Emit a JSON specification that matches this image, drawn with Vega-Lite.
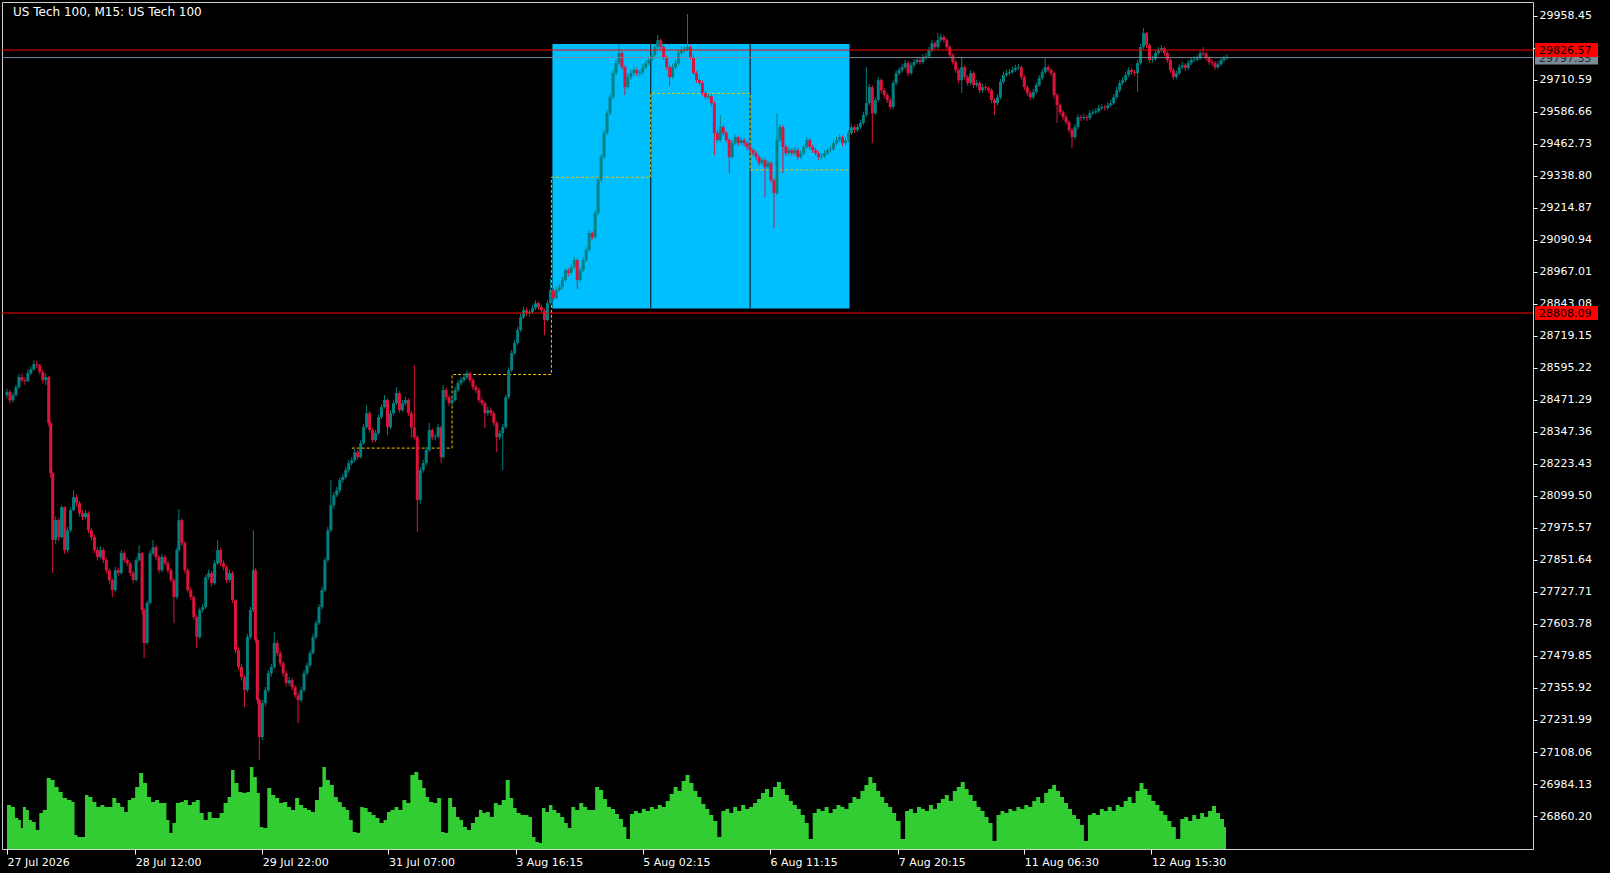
{
"$schema":"https://vega.github.io/schema/vega-lite/v6.json",
"width":1531,"height":847,
"autosize":{"type":"none"},
"padding":{"left":2,"top":2,"right":77,"bottom":24},
"background":"#000000",
"datasets":{
"candles":[
{"x":2,"o":28490,"h":28515,"l":28478,"c":28502},{"x":5,"o":28502,"h":28510,"l":28458,"c":28470},{"x":8,"o":28470,"h":28500,"l":28462,"c":28490},{"x":11,"o":28490,"h":28530,"l":28484,"c":28521},{"x":14,"o":28521,"h":28572,"l":28515,"c":28560},{"x":17,"o":28560,"h":28575,"l":28540,"c":28548},{"x":20,"o":28548,"h":28560,"l":28530,"c":28545},{"x":23,"o":28545,"h":28590,"l":28540,"c":28575},{"x":26,"o":28575,"h":28602,"l":28568,"c":28590},{"x":29,"o":28590,"h":28625,"l":28583,"c":28610},{"x":32,"o":28610,"h":28622,"l":28595,"c":28606},{"x":35,"o":28606,"h":28612,"l":28570,"c":28580},{"x":38,"o":28580,"h":28590,"l":28535,"c":28548},{"x":41,"o":28548,"h":28575,"l":28530,"c":28560},{"x":44,"o":28560,"h":28565,"l":28370,"c":28382},{"x":46,"o":28382,"h":28390,"l":28170,"c":28188},{"x":48,"o":28188,"h":28195,"l":27801,"c":27929},
{"x":51,"o":27929,"h":28020,"l":27915,"c":28006},{"x":54,"o":28006,"h":28015,"l":27925,"c":27940},{"x":57,"o":27940,"h":28064,"l":27935,"c":28056},{"x":60,"o":28056,"h":28060,"l":27875,"c":27890},{"x":63,"o":27890,"h":27980,"l":27880,"c":27967},{"x":66,"o":27967,"h":28055,"l":27960,"c":28045},{"x":69,"o":28045,"h":28122,"l":28040,"c":28095},{"x":72,"o":28095,"h":28105,"l":28060,"c":28072},{"x":75,"o":28072,"h":28080,"l":28020,"c":28033},{"x":78,"o":28033,"h":28045,"l":28005,"c":28018},{"x":81,"o":28018,"h":28045,"l":28010,"c":28033},{"x":84,"o":28033,"h":28040,"l":27955,"c":27967},{"x":87,"o":27967,"h":27975,"l":27928,"c":27940},{"x":90,"o":27940,"h":27950,"l":27878,"c":27890},{"x":93,"o":27890,"h":27900,"l":27850,"c":27863},{"x":96,"o":27863,"h":27905,"l":27855,"c":27890},{"x":99,"o":27890,"h":27898,"l":27840,"c":27851},{"x":102,"o":27851,"h":27860,"l":27800,"c":27812},{"x":105,"o":27812,"h":27820,"l":27760,"c":27774},{"x":108,"o":27774,"h":27780,"l":27708,"c":27735},{"x":111,"o":27735,"h":27825,"l":27728,"c":27812},{"x":114,"o":27812,"h":27822,"l":27790,"c":27801},{"x":117,"o":27801,"h":27890,"l":27795,"c":27878},{"x":120,"o":27878,"h":27888,"l":27840,"c":27851},{"x":123,"o":27851,"h":27860,"l":27828,"c":27839},{"x":126,"o":27839,"h":27845,"l":27790,"c":27801},{"x":129,"o":27801,"h":27810,"l":27762,"c":27774},{"x":132,"o":27774,"h":27862,"l":27768,"c":27851},{"x":135,"o":27851,"h":27909,"l":27845,"c":27878},{"x":138,"o":27878,"h":27882,"l":27640,"c":27658},{"x":140,"o":27658,"h":27665,"l":27472,"c":27530},{"x":143,"o":27530,"h":27695,"l":27522,"c":27685},{"x":146,"o":27685,"h":27890,"l":27680,"c":27878},{"x":149,"o":27878,"h":27929,"l":27870,"c":27901},
{"x":152,"o":27901,"h":27910,"l":27850,"c":27863},{"x":155,"o":27863,"h":27870,"l":27800,"c":27812},{"x":158,"o":27812,"h":27875,"l":27805,"c":27863},{"x":161,"o":27863,"h":27872,"l":27830,"c":27839},{"x":164,"o":27839,"h":27848,"l":27800,"c":27812},{"x":167,"o":27812,"h":27820,"l":27765,"c":27774},{"x":170,"o":27774,"h":27780,"l":27607,"c":27708},{"x":173,"o":27708,"h":27900,"l":27700,"c":27890},{"x":175,"o":27890,"h":28049,"l":27885,"c":28006},{"x":178,"o":28006,"h":28012,"l":27905,"c":27917},{"x":181,"o":27917,"h":27925,"l":27800,"c":27812},{"x":184,"o":27812,"h":27820,"l":27725,"c":27735},{"x":187,"o":27735,"h":27745,"l":27695,"c":27708},{"x":190,"o":27708,"h":27715,"l":27620,"c":27630},{"x":193,"o":27630,"h":27638,"l":27510,"c":27553},{"x":196,"o":27553,"h":27668,"l":27545,"c":27658},{"x":199,"o":27658,"h":27682,"l":27648,"c":27669},{"x":202,"o":27669,"h":27795,"l":27662,"c":27785},{"x":205,"o":27785,"h":27815,"l":27775,"c":27801},{"x":208,"o":27801,"h":27810,"l":27750,"c":27762},{"x":211,"o":27762,"h":27850,"l":27755,"c":27839},{"x":214,"o":27839,"h":27929,"l":27832,"c":27890},{"x":217,"o":27890,"h":27898,"l":27828,"c":27839},{"x":220,"o":27839,"h":27850,"l":27812,"c":27824},{"x":223,"o":27824,"h":27832,"l":27762,"c":27774},{"x":226,"o":27774,"h":27815,"l":27765,"c":27801},{"x":229,"o":27801,"h":27808,"l":27685,"c":27696},{"x":232,"o":27696,"h":27700,"l":27490,"c":27503},{"x":235,"o":27503,"h":27515,"l":27425,"c":27437},{"x":238,"o":27437,"h":27450,"l":27385,"c":27398},{"x":241,"o":27398,"h":27405,"l":27282,"c":27348},{"x":244,"o":27348,"h":27565,"l":27340,"c":27553},{"x":247,"o":27553,"h":27670,"l":27545,"c":27658},{"x":250,"o":27658,"h":27967,"l":27650,"c":27812},
{"x":252,"o":27812,"h":27820,"l":27530,"c":27542},{"x":254,"o":27542,"h":27550,"l":27295,"c":27309},{"x":256,"o":27309,"h":27315,"l":27076,"c":27166},{"x":259,"o":27166,"h":27310,"l":27155,"c":27297},{"x":262,"o":27297,"h":27360,"l":27285,"c":27348},{"x":265,"o":27348,"h":27425,"l":27340,"c":27413},{"x":268,"o":27413,"h":27450,"l":27400,"c":27437},{"x":271,"o":27437,"h":27572,"l":27430,"c":27530},{"x":274,"o":27530,"h":27540,"l":27480,"c":27491},{"x":277,"o":27491,"h":27500,"l":27440,"c":27452},{"x":280,"o":27452,"h":27460,"l":27400,"c":27413},{"x":283,"o":27413,"h":27422,"l":27362,"c":27375},{"x":286,"o":27375,"h":27398,"l":27365,"c":27386},{"x":289,"o":27386,"h":27395,"l":27348,"c":27359},{"x":292,"o":27359,"h":27368,"l":27318,"c":27328},{"x":295,"o":27328,"h":27340,"l":27220,"c":27309},{"x":298,"o":27309,"h":27360,"l":27300,"c":27348},{"x":301,"o":27348,"h":27425,"l":27340,"c":27413},{"x":304,"o":27413,"h":27455,"l":27405,"c":27444},{"x":307,"o":27444,"h":27502,"l":27435,"c":27491},{"x":310,"o":27491,"h":27565,"l":27485,"c":27553},{"x":313,"o":27553,"h":27618,"l":27545,"c":27607},{"x":316,"o":27607,"h":27680,"l":27600,"c":27669},{"x":319,"o":27669,"h":27748,"l":27660,"c":27735},{"x":322,"o":27735,"h":27862,"l":27728,"c":27851},{"x":325,"o":27851,"h":27980,"l":27842,"c":27967},{"x":328,"o":27967,"h":28161,"l":27960,"c":28064},{"x":331,"o":28064,"h":28115,"l":28050,"c":28103},{"x":334,"o":28103,"h":28135,"l":28095,"c":28122},{"x":337,"o":28122,"h":28172,"l":28110,"c":28161},{"x":340,"o":28161,"h":28185,"l":28150,"c":28173},{"x":343,"o":28173,"h":28212,"l":28165,"c":28200},{"x":346,"o":28200,"h":28240,"l":28190,"c":28227},{"x":349,"o":28227,"h":28250,"l":28218,"c":28238},
{"x":352,"o":28238,"h":28282,"l":28230,"c":28269},{"x":355,"o":28269,"h":28278,"l":28240,"c":28250},{"x":358,"o":28250,"h":28315,"l":28245,"c":28304},{"x":361,"o":28304,"h":28378,"l":28298,"c":28366},{"x":364,"o":28366,"h":28451,"l":28360,"c":28420},{"x":367,"o":28420,"h":28428,"l":28345,"c":28355},{"x":370,"o":28355,"h":28362,"l":28305,"c":28316},{"x":373,"o":28316,"h":28355,"l":28308,"c":28343},{"x":376,"o":28343,"h":28415,"l":28335,"c":28405},{"x":379,"o":28405,"h":28455,"l":28398,"c":28444},{"x":382,"o":28444,"h":28490,"l":28438,"c":28471},{"x":385,"o":28471,"h":28478,"l":28335,"c":28366},{"x":388,"o":28366,"h":28432,"l":28358,"c":28420},{"x":391,"o":28420,"h":28470,"l":28412,"c":28459},{"x":394,"o":28459,"h":28521,"l":28450,"c":28498},{"x":397,"o":28498,"h":28505,"l":28422,"c":28432},{"x":400,"o":28432,"h":28470,"l":28425,"c":28459},{"x":403,"o":28459,"h":28485,"l":28450,"c":28471},{"x":406,"o":28471,"h":28478,"l":28410,"c":28420},{"x":409,"o":28420,"h":28428,"l":28324,"c":28366},{"x":412,"o":28366,"h":28606,"l":28318,"c":28327},{"x":415,"o":28327,"h":28335,"l":27960,"c":28084},{"x":418,"o":28084,"h":28212,"l":28070,"c":28200},{"x":421,"o":28200,"h":28240,"l":28190,"c":28227},{"x":424,"o":28227,"h":28290,"l":28218,"c":28277},{"x":427,"o":28277,"h":28382,"l":28270,"c":28355},{"x":430,"o":28355,"h":28362,"l":28315,"c":28327},{"x":433,"o":28327,"h":28340,"l":28315,"c":28330},{"x":436,"o":28330,"h":28378,"l":28322,"c":28366},{"x":439,"o":28366,"h":28372,"l":28227,"c":28250},{"x":441,"o":28250,"h":28529,"l":28245,"c":28510},{"x":444,"o":28510,"h":28518,"l":28470,"c":28482},{"x":447,"o":28482,"h":28490,"l":28448,"c":28459},{"x":450,"o":28459,"h":28485,"l":28450,"c":28471},
{"x":453,"o":28471,"h":28522,"l":28465,"c":28510},{"x":456,"o":28510,"h":28548,"l":28502,"c":28537},{"x":459,"o":28537,"h":28560,"l":28528,"c":28548},{"x":462,"o":28548,"h":28572,"l":28540,"c":28560},{"x":465,"o":28560,"h":28587,"l":28552,"c":28575},{"x":468,"o":28575,"h":28582,"l":28538,"c":28548},{"x":471,"o":28548,"h":28556,"l":28510,"c":28521},{"x":474,"o":28521,"h":28530,"l":28498,"c":28510},{"x":477,"o":28510,"h":28518,"l":28460,"c":28471},{"x":480,"o":28471,"h":28480,"l":28448,"c":28459},{"x":483,"o":28459,"h":28466,"l":28362,"c":28420},{"x":486,"o":28420,"h":28445,"l":28410,"c":28432},{"x":489,"o":28432,"h":28442,"l":28408,"c":28420},{"x":492,"o":28420,"h":28428,"l":28370,"c":28382},{"x":495,"o":28382,"h":28390,"l":28269,"c":28327},{"x":498,"o":28327,"h":28355,"l":28318,"c":28343},{"x":501,"o":28343,"h":28378,"l":28200,"c":28366},{"x":504,"o":28366,"h":28492,"l":28360,"c":28482},{"x":507,"o":28482,"h":28598,"l":28475,"c":28587},{"x":510,"o":28587,"h":28665,"l":28580,"c":28653},{"x":513,"o":28653,"h":28705,"l":28645,"c":28692},{"x":516,"o":28692,"h":28755,"l":28685,"c":28742},{"x":519,"o":28742,"h":28805,"l":28735,"c":28792},{"x":522,"o":28792,"h":28832,"l":28785,"c":28819},{"x":525,"o":28819,"h":28828,"l":28796,"c":28808},{"x":528,"o":28808,"h":28820,"l":28795,"c":28812},{"x":531,"o":28812,"h":28840,"l":28805,"c":28827},{"x":534,"o":28827,"h":28858,"l":28820,"c":28846},{"x":537,"o":28846,"h":28852,"l":28820,"c":28831},{"x":540,"o":28831,"h":28838,"l":28808,"c":28819},{"x":543,"o":28819,"h":28825,"l":28722,"c":28781},{"x":546,"o":28781,"h":28858,"l":28775,"c":28846},{"x":549,"o":28846,"h":28943,"l":28840,"c":28897},
{"x":552,"o":28897,"h":28905,"l":28855,"c":28866},{"x":555,"o":28866,"h":28910,"l":28860,"c":28897},{"x":558,"o":28897,"h":28920,"l":28890,"c":28908},{"x":561,"o":28908,"h":28948,"l":28900,"c":28936},{"x":564,"o":28936,"h":28986,"l":28928,"c":28974},{"x":567,"o":28974,"h":28982,"l":28950,"c":28963},{"x":570,"o":28963,"h":28998,"l":28955,"c":28986},{"x":573,"o":28986,"h":29025,"l":28978,"c":29013},{"x":576,"o":29013,"h":29020,"l":28901,"c":28936},{"x":579,"o":28936,"h":28986,"l":28928,"c":28974},{"x":582,"o":28974,"h":29025,"l":28966,"c":29013},{"x":585,"o":29013,"h":29064,"l":29005,"c":29052},{"x":588,"o":29052,"h":29130,"l":29045,"c":29118},{"x":591,"o":29118,"h":29125,"l":29090,"c":29102},{"x":594,"o":29102,"h":29206,"l":29095,"c":29195},{"x":597,"o":29195,"h":29334,"l":29188,"c":29323},{"x":600,"o":29323,"h":29424,"l":29315,"c":29412},{"x":603,"o":29412,"h":29516,"l":29405,"c":29505},{"x":606,"o":29505,"h":29594,"l":29498,"c":29582},{"x":609,"o":29582,"h":29656,"l":29575,"c":29644},{"x":612,"o":29644,"h":29748,"l":29636,"c":29737},{"x":615,"o":29737,"h":29788,"l":29728,"c":29776},{"x":618,"o":29776,"h":29850,"l":29768,"c":29815},{"x":621,"o":29815,"h":29822,"l":29750,"c":29760},{"x":624,"o":29760,"h":29768,"l":29652,"c":29683},{"x":627,"o":29683,"h":29735,"l":29675,"c":29722},{"x":630,"o":29722,"h":29750,"l":29712,"c":29737},{"x":633,"o":29737,"h":29762,"l":29728,"c":29749},{"x":636,"o":29749,"h":29758,"l":29725,"c":29737},{"x":639,"o":29737,"h":29750,"l":29725,"c":29740},{"x":642,"o":29740,"h":29772,"l":29732,"c":29760},{"x":645,"o":29760,"h":29788,"l":29752,"c":29776},{"x":648,"o":29776,"h":29800,"l":29768,"c":29788},
{"x":651,"o":29788,"h":29820,"l":29780,"c":29807},{"x":654,"o":29807,"h":29850,"l":29800,"c":29838},{"x":657,"o":29838,"h":29884,"l":29830,"c":29865},{"x":660,"o":29865,"h":29872,"l":29828,"c":29838},{"x":663,"o":29838,"h":29845,"l":29788,"c":29799},{"x":666,"o":29799,"h":29806,"l":29750,"c":29760},{"x":669,"o":29760,"h":29768,"l":29687,"c":29722},{"x":672,"o":29722,"h":29772,"l":29715,"c":29760},{"x":675,"o":29760,"h":29788,"l":29752,"c":29776},{"x":678,"o":29776,"h":29826,"l":29768,"c":29815},{"x":681,"o":29815,"h":29838,"l":29808,"c":29826},{"x":684,"o":29826,"h":29842,"l":29815,"c":29830},{"x":687,"o":29830,"h":29966,"l":29822,"c":29838},{"x":690,"o":29838,"h":29845,"l":29790,"c":29799},{"x":693,"o":29799,"h":29806,"l":29728,"c":29737},{"x":696,"o":29737,"h":29745,"l":29700,"c":29710},{"x":699,"o":29710,"h":29720,"l":29688,"c":29699},{"x":702,"o":29699,"h":29708,"l":29650,"c":29660},{"x":705,"o":29660,"h":29668,"l":29634,"c":29644},{"x":708,"o":29644,"h":29660,"l":29636,"c":29648},{"x":711,"o":29648,"h":29655,"l":29610,"c":29621},{"x":714,"o":29621,"h":29628,"l":29420,"c":29505},{"x":717,"o":29505,"h":29515,"l":29468,"c":29478},{"x":720,"o":29478,"h":29575,"l":29470,"c":29528},{"x":723,"o":29528,"h":29536,"l":29495,"c":29505},{"x":726,"o":29505,"h":29512,"l":29468,"c":29478},{"x":729,"o":29478,"h":29485,"l":29350,"c":29412},{"x":732,"o":29412,"h":29478,"l":29405,"c":29466},{"x":735,"o":29466,"h":29500,"l":29458,"c":29489},{"x":738,"o":29489,"h":29496,"l":29455,"c":29466},{"x":741,"o":29466,"h":29490,"l":29458,"c":29478},{"x":744,"o":29478,"h":29486,"l":29455,"c":29466},{"x":747,"o":29466,"h":29474,"l":29440,"c":29451},{"x":750,"o":29451,"h":29460,"l":29428,"c":29439},
{"x":753,"o":29439,"h":29448,"l":29416,"c":29427},{"x":756,"o":29427,"h":29435,"l":29400,"c":29412},{"x":759,"o":29412,"h":29420,"l":29378,"c":29389},{"x":762,"o":29389,"h":29412,"l":29380,"c":29400},{"x":765,"o":29400,"h":29408,"l":29257,"c":29373},{"x":768,"o":29373,"h":29400,"l":29365,"c":29389},{"x":771,"o":29389,"h":29396,"l":29312,"c":29323},{"x":774,"o":29323,"h":29330,"l":29137,"c":29273},{"x":777,"o":29273,"h":29582,"l":29265,"c":29478},{"x":780,"o":29478,"h":29540,"l":29470,"c":29528},{"x":783,"o":29528,"h":29535,"l":29350,"c":29451},{"x":786,"o":29451,"h":29460,"l":29416,"c":29427},{"x":789,"o":29427,"h":29452,"l":29418,"c":29439},{"x":792,"o":29439,"h":29448,"l":29416,"c":29427},{"x":795,"o":29427,"h":29452,"l":29418,"c":29439},{"x":798,"o":29439,"h":29448,"l":29400,"c":29412},{"x":801,"o":29412,"h":29440,"l":29404,"c":29427},{"x":804,"o":29427,"h":29462,"l":29420,"c":29451},{"x":807,"o":29451,"h":29490,"l":29444,"c":29478},{"x":810,"o":29478,"h":29486,"l":29440,"c":29451},{"x":813,"o":29451,"h":29460,"l":29428,"c":29439},{"x":816,"o":29439,"h":29448,"l":29416,"c":29427},{"x":819,"o":29427,"h":29435,"l":29400,"c":29412},{"x":822,"o":29412,"h":29428,"l":29402,"c":29415},{"x":825,"o":29415,"h":29440,"l":29408,"c":29427},{"x":828,"o":29427,"h":29450,"l":29418,"c":29439},{"x":831,"o":29439,"h":29455,"l":29430,"c":29442},{"x":834,"o":29442,"h":29478,"l":29435,"c":29466},{"x":837,"o":29466,"h":29490,"l":29458,"c":29478},{"x":840,"o":29478,"h":29500,"l":29470,"c":29489},{"x":843,"o":29489,"h":29496,"l":29455,"c":29466},{"x":846,"o":29466,"h":29490,"l":29458,"c":29478},{"x":849,"o":29478,"h":29516,"l":29470,"c":29505},
{"x":852,"o":29505,"h":29540,"l":29498,"c":29528},{"x":855,"o":29528,"h":29535,"l":29505,"c":29517},{"x":858,"o":29517,"h":29540,"l":29508,"c":29528},{"x":861,"o":29528,"h":29555,"l":29520,"c":29544},{"x":864,"o":29544,"h":29588,"l":29536,"c":29575},{"x":867,"o":29575,"h":29760,"l":29568,"c":29621},{"x":870,"o":29621,"h":29695,"l":29612,"c":29683},{"x":873,"o":29683,"h":29690,"l":29466,"c":29582},{"x":876,"o":29582,"h":29645,"l":29575,"c":29633},{"x":879,"o":29633,"h":29722,"l":29625,"c":29710},{"x":882,"o":29710,"h":29718,"l":29660,"c":29671},{"x":885,"o":29671,"h":29680,"l":29640,"c":29652},{"x":888,"o":29652,"h":29660,"l":29622,"c":29633},{"x":891,"o":29633,"h":29640,"l":29595,"c":29606},{"x":894,"o":29606,"h":29710,"l":29598,"c":29699},{"x":897,"o":29699,"h":29748,"l":29690,"c":29737},{"x":900,"o":29737,"h":29760,"l":29728,"c":29749},{"x":903,"o":29749,"h":29772,"l":29740,"c":29760},{"x":906,"o":29760,"h":29788,"l":29752,"c":29776},{"x":909,"o":29776,"h":29784,"l":29726,"c":29737},{"x":912,"o":29737,"h":29780,"l":29730,"c":29768},{"x":915,"o":29768,"h":29792,"l":29760,"c":29780},{"x":918,"o":29780,"h":29800,"l":29772,"c":29788},{"x":921,"o":29788,"h":29796,"l":29770,"c":29780},{"x":924,"o":29780,"h":29810,"l":29772,"c":29799},{"x":927,"o":29799,"h":29815,"l":29790,"c":29802},{"x":930,"o":29802,"h":29838,"l":29795,"c":29826},{"x":933,"o":29826,"h":29865,"l":29818,"c":29853},{"x":936,"o":29853,"h":29860,"l":29828,"c":29838},{"x":939,"o":29838,"h":29892,"l":29830,"c":29865},{"x":942,"o":29865,"h":29888,"l":29858,"c":29877},{"x":945,"o":29877,"h":29885,"l":29855,"c":29865},{"x":948,"o":29865,"h":29872,"l":29828,"c":29838},
{"x":951,"o":29838,"h":29845,"l":29796,"c":29807},{"x":954,"o":29807,"h":29814,"l":29770,"c":29780},{"x":957,"o":29780,"h":29788,"l":29738,"c":29749},{"x":960,"o":29749,"h":29756,"l":29698,"c":29710},{"x":963,"o":29710,"h":29799,"l":29660,"c":29760},{"x":966,"o":29760,"h":29768,"l":29712,"c":29722},{"x":969,"o":29722,"h":29730,"l":29688,"c":29699},{"x":972,"o":29699,"h":29748,"l":29690,"c":29737},{"x":975,"o":29737,"h":29744,"l":29680,"c":29691},{"x":978,"o":29691,"h":29712,"l":29682,"c":29699},{"x":981,"o":29699,"h":29706,"l":29660,"c":29671},{"x":984,"o":29671,"h":29695,"l":29662,"c":29683},{"x":987,"o":29683,"h":29692,"l":29668,"c":29679},{"x":990,"o":29679,"h":29686,"l":29660,"c":29671},{"x":993,"o":29671,"h":29678,"l":29622,"c":29633},{"x":996,"o":29633,"h":29640,"l":29575,"c":29621},{"x":999,"o":29621,"h":29656,"l":29612,"c":29644},{"x":1002,"o":29644,"h":29715,"l":29636,"c":29703},{"x":1005,"o":29703,"h":29742,"l":29695,"c":29730},{"x":1008,"o":29730,"h":29750,"l":29722,"c":29737},{"x":1011,"o":29737,"h":29754,"l":29728,"c":29741},{"x":1014,"o":29741,"h":29762,"l":29734,"c":29749},{"x":1017,"o":29749,"h":29770,"l":29742,"c":29757},{"x":1020,"o":29757,"h":29772,"l":29748,"c":29760},{"x":1023,"o":29760,"h":29768,"l":29712,"c":29722},{"x":1026,"o":29722,"h":29730,"l":29672,"c":29683},{"x":1029,"o":29683,"h":29690,"l":29650,"c":29660},{"x":1032,"o":29660,"h":29668,"l":29634,"c":29644},{"x":1035,"o":29644,"h":29676,"l":29636,"c":29664},{"x":1038,"o":29664,"h":29702,"l":29656,"c":29691},{"x":1041,"o":29691,"h":29730,"l":29684,"c":29718},{"x":1044,"o":29718,"h":29752,"l":29710,"c":29741},{"x":1047,"o":29741,"h":29795,"l":29734,"c":29760},{"x":1050,"o":29760,"h":29768,"l":29740,"c":29749},
{"x":1053,"o":29749,"h":29756,"l":29726,"c":29737},{"x":1056,"o":29737,"h":29744,"l":29640,"c":29652},{"x":1059,"o":29652,"h":29660,"l":29544,"c":29613},{"x":1062,"o":29613,"h":29620,"l":29575,"c":29586},{"x":1065,"o":29586,"h":29594,"l":29556,"c":29567},{"x":1068,"o":29567,"h":29575,"l":29538,"c":29548},{"x":1071,"o":29548,"h":29555,"l":29506,"c":29517},{"x":1074,"o":29517,"h":29524,"l":29447,"c":29489},{"x":1077,"o":29489,"h":29540,"l":29480,"c":29528},{"x":1080,"o":29528,"h":29578,"l":29520,"c":29567},{"x":1083,"o":29567,"h":29576,"l":29552,"c":29563},{"x":1086,"o":29563,"h":29580,"l":29554,"c":29567},{"x":1089,"o":29567,"h":29576,"l":29552,"c":29563},{"x":1092,"o":29563,"h":29594,"l":29555,"c":29582},{"x":1095,"o":29582,"h":29598,"l":29574,"c":29586},{"x":1098,"o":29586,"h":29602,"l":29578,"c":29590},{"x":1101,"o":29590,"h":29614,"l":29582,"c":29602},{"x":1104,"o":29602,"h":29618,"l":29594,"c":29606},{"x":1107,"o":29606,"h":29615,"l":29592,"c":29602},{"x":1110,"o":29602,"h":29625,"l":29594,"c":29613},{"x":1113,"o":29613,"h":29634,"l":29605,"c":29621},{"x":1116,"o":29621,"h":29656,"l":29614,"c":29644},{"x":1119,"o":29644,"h":29684,"l":29636,"c":29671},{"x":1122,"o":29671,"h":29710,"l":29662,"c":29699},{"x":1125,"o":29699,"h":29722,"l":29690,"c":29710},{"x":1128,"o":29710,"h":29742,"l":29702,"c":29730},{"x":1131,"o":29730,"h":29760,"l":29722,"c":29749},{"x":1134,"o":29749,"h":29756,"l":29730,"c":29741},{"x":1137,"o":29741,"h":29750,"l":29726,"c":29737},{"x":1140,"o":29737,"h":29788,"l":29664,"c":29776},{"x":1143,"o":29776,"h":29850,"l":29768,"c":29838},{"x":1146,"o":29838,"h":29912,"l":29830,"c":29892},{"x":1149,"o":29892,"h":29898,"l":29835,"c":29846},
{"x":1152,"o":29846,"h":29852,"l":29778,"c":29788},{"x":1155,"o":29788,"h":29805,"l":29778,"c":29792},{"x":1158,"o":29792,"h":29826,"l":29784,"c":29815},{"x":1161,"o":29815,"h":29838,"l":29808,"c":29826},{"x":1164,"o":29826,"h":29846,"l":29818,"c":29834},{"x":1167,"o":29834,"h":29840,"l":29805,"c":29815},{"x":1170,"o":29815,"h":29822,"l":29778,"c":29788},{"x":1173,"o":29788,"h":29795,"l":29738,"c":29749},{"x":1176,"o":29749,"h":29756,"l":29712,"c":29722},{"x":1179,"o":29722,"h":29748,"l":29714,"c":29737},{"x":1182,"o":29737,"h":29772,"l":29730,"c":29760},{"x":1185,"o":29760,"h":29780,"l":29752,"c":29768},{"x":1188,"o":29768,"h":29775,"l":29746,"c":29757},{"x":1191,"o":29757,"h":29788,"l":29750,"c":29776},{"x":1194,"o":29776,"h":29800,"l":29768,"c":29788},{"x":1197,"o":29788,"h":29802,"l":29780,"c":29790},{"x":1200,"o":29790,"h":29806,"l":29782,"c":29795},{"x":1203,"o":29795,"h":29826,"l":29788,"c":29815},{"x":1206,"o":29815,"h":29838,"l":29804,"c":29812},{"x":1209,"o":29812,"h":29820,"l":29785,"c":29795},{"x":1212,"o":29795,"h":29802,"l":29770,"c":29780},{"x":1215,"o":29780,"h":29790,"l":29765,"c":29776},{"x":1218,"o":29776,"h":29784,"l":29750,"c":29760},{"x":1221,"o":29760,"h":29784,"l":29752,"c":29772},{"x":1224,"o":29772,"h":29800,"l":29765,"c":29788},{"x":1227,"o":29788,"h":29806,"l":29780,"c":29795},{"x":1230,"o":29795,"h":29810,"l":29788,"c":29797}
],
"vol":[
{"x":2,"v":440},{"x":4,"v":440},{"x":8,"v":420},{"x":12,"v":310},{"x":15,"v":290},{"x":17,"v":210},{"x":19,"v":420},{"x":23,"v":390},{"x":25,"v":290},{"x":29,"v":270},{"x":33,"v":190},{"x":36,"v":360},{"x":40,"v":390},{"x":44,"v":710},{"x":48,"v":690},{"x":52,"v":620},{"x":56,"v":570},{"x":60,"v":510},{"x":65,"v":490},{"x":69,"v":470},{"x":71,"v":140},{"x":75,"v":120},{"x":79,"v":120},{"x":82,"v":540},{"x":86,"v":520},{"x":90,"v":470},{"x":94,"v":420},{"x":98,"v":440},{"x":102,"v":420},{"x":106,"v":420},{"x":110,"v":510},{"x":114,"v":460},{"x":118,"v":420},{"x":122,"v":370},{"x":125,"v":490},{"x":129,"v":510},{"x":133,"v":620},{"x":137,"v":760},{"x":141,"v":660},{"x":145,"v":520},{"x":149,"v":470},{"x":153,"v":490},{"x":157,"v":460},{"x":161,"v":460},{"x":164,"v":290},{"x":167,"v":160},{"x":170,"v":260},{"x":174,"v":460},{"x":178,"v":470},{"x":182,"v":490},{"x":186,"v":440},{"x":190,"v":470},{"x":194,"v":490},{"x":198,"v":360},{"x":202,"v":290},{"x":206,"v":370},{"x":210,"v":310},{"x":214,"v":310},{"x":218,"v":360},{"x":222,"v":460},{"x":226,"v":520},{"x":229,"v":790},{"x":233,"v":660},{"x":237,"v":570},{"x":241,"v":560},{"x":245,"v":570},{"x":248,"v":820},{"x":252,"v":720},{"x":255,"v":560},{"x":258,"v":220},{"x":262,"v":210},{"x":266,"v":610},{"x":270,"v":540},{"x":274,"v":510},{"x":278,"v":460},{"x":282,"v":470},{"x":286,"v":420},{"x":290,"v":390},{"x":294,"v":510},{"x":298,"v":440},{"x":302,"v":410},{"x":306,"v":390},{"x":310,"v":370},{"x":314,"v":490},{"x":318,"v":620},{"x":321,"v":820},{"x":325,"v":690},{"x":329,"v":640},{"x":333,"v":520},{"x":337,"v":470},{"x":341,"v":420},{"x":345,"v":390},{"x":348,"v":290},{"x":352,"v":170},{"x":356,"v":160},{"x":359,"v":420},{"x":363,"v":410},{"x":367,"v":370},{"x":371,"v":340},{"x":375,"v":310},{"x":379,"v":260},{"x":383,"v":290},{"x":386,"v":370},{"x":390,"v":390},{"x":394,"v":420},{"x":398,"v":390},{"x":402,"v":490},{"x":406,"v":460},{"x":410,"v":740},{"x":414,"v":770},{"x":418,"v":690},{"x":422,"v":610},{"x":425,"v":520},{"x":429,"v":470},{"x":433,"v":460},{"x":437,"v":510},{"x":441,"v":170},{"x":444,"v":160},{"x":448,"v":510},{"x":452,"v":420},{"x":456,"v":320},{"x":459,"v":290},{"x":463,"v":220},{"x":467,"v":190},{"x":471,"v":260},{"x":475,"v":320},{"x":479,"v":390},{"x":482,"v":360},{"x":486,"v":370},{"x":490,"v":320},{"x":494,"v":460},{"x":498,"v":440},{"x":502,"v":490},{"x":506,"v":690},{"x":510,"v":510},{"x":513,"v":410},{"x":517,"v":360},{"x":521,"v":340},{"x":525,"v":340},{"x":529,"v":320},{"x":532,"v":120},{"x":536,"v":70},{"x":539,"v":60},{"x":542,"v":410},{"x":546,"v":370},{"x":549,"v":440},{"x":553,"v":390},{"x":557,"v":360},{"x":561,"v":320},{"x":565,"v":260},{"x":568,"v":210},{"x":572,"v":420},{"x":576,"v":390},{"x":580,"v":460},{"x":584,"v":420},{"x":588,"v":390},{"x":592,"v":390},{"x":596,"v":620},{"x":600,"v":590},
{"x":604,"v":500},{"x":608,"v":420},{"x":612,"v":400},{"x":616,"v":350},{"x":620,"v":300},{"x":624,"v":220},{"x":627,"v":100},{"x":631,"v":350},{"x":635,"v":380},{"x":639,"v":360},{"x":643,"v":400},{"x":647,"v":380},{"x":651,"v":420},{"x":655,"v":400},{"x":659,"v":440},{"x":663,"v":420},{"x":667,"v":480},{"x":671,"v":550},{"x":675,"v":620},{"x":679,"v":580},{"x":683,"v":680},{"x":687,"v":740},{"x":691,"v":660},{"x":695,"v":580},{"x":699,"v":520},{"x":703,"v":450},{"x":707,"v":400},{"x":711,"v":340},{"x":715,"v":280},{"x":719,"v":120},{"x":723,"v":380},{"x":727,"v":400},{"x":731,"v":360},{"x":735,"v":420},{"x":739,"v":380},{"x":743,"v":440},{"x":747,"v":400},{"x":751,"v":420},{"x":755,"v":460},{"x":759,"v":500},{"x":763,"v":560},{"x":767,"v":600},{"x":771,"v":520},{"x":775,"v":620},{"x":779,"v":670},{"x":783,"v":600},{"x":787,"v":540},{"x":791,"v":480},{"x":795,"v":440},{"x":799,"v":400},{"x":803,"v":340},{"x":807,"v":260},{"x":811,"v":100},{"x":815,"v":360},{"x":819,"v":400},{"x":823,"v":380},{"x":827,"v":420},{"x":831,"v":360},{"x":835,"v":400},{"x":839,"v":440},{"x":843,"v":420},{"x":847,"v":400},{"x":851,"v":460},{"x":855,"v":520},{"x":859,"v":500},{"x":863,"v":580},{"x":867,"v":640},{"x":871,"v":720},{"x":875,"v":660},{"x":879,"v":580},{"x":883,"v":520},{"x":887,"v":460},{"x":891,"v":420},{"x":895,"v":360},{"x":899,"v":280},{"x":904,"v":100},{"x":908,"v":380},{"x":912,"v":400},{"x":916,"v":360},{"x":920,"v":420},{"x":924,"v":400},{"x":928,"v":380},{"x":932,"v":440},{"x":936,"v":400},{"x":940,"v":460},{"x":944,"v":500},{"x":948,"v":540},{"x":952,"v":480},{"x":956,"v":580},{"x":960,"v":620},{"x":964,"v":670},{"x":968,"v":600},{"x":972,"v":540},{"x":976,"v":480},{"x":980,"v":420},{"x":984,"v":380},{"x":988,"v":320},{"x":992,"v":260},{"x":996,"v":80},{"x":1000,"v":340},{"x":1004,"v":380},{"x":1008,"v":360},{"x":1012,"v":400},{"x":1016,"v":380},{"x":1020,"v":420},{"x":1024,"v":400},{"x":1028,"v":440},{"x":1032,"v":420},{"x":1036,"v":480},{"x":1040,"v":520},{"x":1044,"v":460},{"x":1048,"v":560},{"x":1052,"v":600},{"x":1056,"v":640},{"x":1060,"v":580},{"x":1064,"v":520},{"x":1068,"v":460},{"x":1072,"v":400},{"x":1076,"v":340},{"x":1080,"v":300},{"x":1084,"v":240},{"x":1088,"v":80},{"x":1092,"v":340},{"x":1096,"v":360},{"x":1100,"v":340},{"x":1104,"v":400},{"x":1108,"v":380},{"x":1112,"v":420},{"x":1116,"v":380},{"x":1120,"v":440},{"x":1124,"v":420},{"x":1128,"v":480},{"x":1132,"v":520},{"x":1136,"v":460},{"x":1140,"v":580},{"x":1144,"v":660},{"x":1148,"v":600},{"x":1152,"v":540},{"x":1156,"v":480},{"x":1160,"v":440},{"x":1164,"v":380},{"x":1168,"v":340},{"x":1172,"v":280},{"x":1176,"v":220},{"x":1181,"v":100},{"x":1185,"v":300},{"x":1189,"v":320},{"x":1193,"v":280},{"x":1197,"v":340},{"x":1201,"v":300},{"x":1205,"v":360},{"x":1209,"v":320},{"x":1213,"v":380},{"x":1217,"v":430},{"x":1221,"v":360},{"x":1225,"v":300},{"x":1229,"v":220}
],
"box":[{"x1":551,"x2":850,"top":29850,"bottom":28826}],
"seps":[{"x":650,"top":29850,"bottom":28826},{"x":750,"top":29850,"bottom":28826}],
"steps":[{"x":349,"p":28285},{"x":450,"p":28570},{"x":550,"p":29334},{"x":650,"p":29659},{"x":750,"p":29362},{"x":850,"p":29362}],
"levels":[{"p":29797.35,"kind":"bid"},{"p":29826.57,"kind":"level"},{"p":28808.09,"kind":"level"}],
"caption":[{"label":"US Tech 100, M15:  US Tech 100","x":2,"p":30012.65}]
},
"layer":[
{"data":{"name":"vol"},"mark":{"type":"area","interpolate":"step","color":"#32cd32"},
 "encoding":{"x":{"field":"x","type":"quantitative","title":null,"scale":{"domain":[2,1533],"nice":false,"zero":false},
   "axis":{"orient":"bottom","values":[2,131,259,386,514,642,770,899,1026,1154],"tickCount":40,
   "labelExpr":"datum.value==2?'27 Jul 2026':datum.value==131?'28 Jul 12:00':datum.value==259?'29 Jul 22:00':datum.value==386?'31 Jul 07:00':datum.value==514?'3 Aug 16:15':datum.value==642?'5 Aug 02:15':datum.value==770?'6 Aug 11:15':datum.value==899?'7 Aug 20:15':datum.value==1026?'11 Aug 06:30':'12 Aug 15:30'",
   "title":null,"domain":false,"grid":false,"tickSize":5,"tickColor":"#ffffff","labelColor":"#ffffff","labelFont":"DejaVu Sans","labelFontSize":11,"labelAlign":"left","labelBaseline":"top","labelPadding":2,"labelFlush":false,"labelOverlap":false,"zindex":0}},
 "y":{"field":"v","type":"quantitative","title":null,"scale":{"domain":[0,8470],"nice":false},"axis":null}}},
{"layer":[
 {"data":{"name":"box"},"mark":{"type":"rect","color":"#00bfff"},
  "encoding":{
   "x":{"field":"x1","type":"quantitative","title":null,"scale":{"domain":[2,1533],"nice":false,"zero":false}},
   "x2":{"field":"x2"},
   "y":{"field":"top","type":"quantitative","title":null,"scale":{"domain":[26732.4,30012.65],"nice":false,"zero":false},
     "axis":{"orient":"right","values":[29958.45,29834.52,29710.59,29586.66,29462.73,29338.80,29214.87,29090.94,28967.01,28843.08,28719.15,28595.22,28471.29,28347.36,28223.43,28099.50,27975.57,27851.64,27727.71,27603.78,27479.85,27355.92,27231.99,27108.06,26984.13,26860.20],"tickCount":60,
     "format":".2f","title":null,"domain":false,"grid":false,"tickSize":4,"tickColor":"#ffffff","labelColor":"#ffffff","labelFont":"DejaVu Sans","labelFontSize":11,"labelPadding":2,"labelOverlap":false,"labelFlush":false,"labelSeparation":0,"zindex":0}},
   "y2":{"field":"bottom"}}},
 {"data":{"name":"seps"},"mark":{"type":"rule","color":"#000000","strokeWidth":1},
  "encoding":{"x":{"field":"x","type":"quantitative","title":null},
   "y":{"field":"top","type":"quantitative","title":null},"y2":{"field":"bottom"}}},
 {"data":{"name":"steps"},"mark":{"type":"line","interpolate":"step-after","color":"#f2c200","strokeWidth":1,"strokeDash":[3,2]},
  "encoding":{"x":{"field":"x","type":"quantitative","title":null},
   "y":{"field":"p","type":"quantitative","title":null}}},
 {"data":{"name":"candles"},"mark":{"type":"rule","strokeWidth":1},
  "encoding":{"x":{"field":"x","type":"quantitative","title":null},
   "y":{"field":"l","type":"quantitative","title":null},"y2":{"field":"h"},
   "color":{"condition":{"test":"datum.c >= datum.o","value":"#008080"},"value":"#dc143c"}}},
 {"data":{"name":"candles"},"mark":{"type":"bar","width":3},
  "encoding":{"x":{"field":"x","type":"quantitative","title":null},
   "y":{"field":"o","type":"quantitative","title":null},"y2":{"field":"c"},
   "color":{"condition":{"test":"datum.c >= datum.o","value":"#008080"},"value":"#dc143c"}}},
 {"data":{"name":"levels"},"mark":{"type":"rule","strokeWidth":1},
  "encoding":{"y":{"field":"p","type":"quantitative","title":null},
   "color":{"field":"kind","type":"nominal","scale":{"domain":["bid","level"],"range":["#778899","#ff0000"]},"legend":null}}},
 {"data":{"name":"levels"},"transform":[{"filter":"datum.kind == 'bid'"}],"mark":{"type":"tick","x":{"expr":"width + 33.5"},"size":63,"thickness":14,"color":"#7b8a99","opacity":1},
  "encoding":{"y":{"field":"p","type":"quantitative","title":null}}},
 {"data":{"name":"levels"},"transform":[{"filter":"datum.kind == 'bid'"}],"mark":{"type":"text","x":{"expr":"width + 6"},"align":"left","baseline":"middle","dy":1,"font":"DejaVu Sans","fontSize":11,"color":"#2b2b2b"},
  "encoding":{"y":{"field":"p","type":"quantitative","title":null},"text":{"field":"p","type":"quantitative","format":".2f"}}},
 {"data":{"name":"levels"},"transform":[{"filter":"datum.kind == 'level'"}],"mark":{"type":"tick","x":{"expr":"width + 33.5"},"size":63,"thickness":14,"color":"#ff0000","opacity":1},
  "encoding":{"y":{"field":"p","type":"quantitative","title":null}}},
 {"data":{"name":"levels"},"transform":[{"filter":"datum.kind == 'level'"}],"mark":{"type":"text","x":{"expr":"width + 6"},"align":"left","baseline":"middle","dy":1,"font":"DejaVu Sans","fontSize":11,"color":"#000000"},
  "encoding":{"y":{"field":"p","type":"quantitative","title":null},"text":{"field":"p","type":"quantitative","format":".2f"}}},
 {"data":{"name":"caption"},"mark":{"type":"text","align":"left","baseline":"alphabetic","dx":6,"dy":14,"font":"DejaVu Sans","fontSize":12,"color":"#ffffff"},
  "encoding":{"x":{"field":"x","type":"quantitative","title":null},"y":{"field":"p","type":"quantitative","title":null},"text":{"field":"label"}}}
 ]
}
],
"resolve":{"scale":{"y":"independent"}},
"config":{
 "view":{"stroke":"#d0d0d0","fill":"#000000"},
 "background":"#000000",
 "axis":{"labelOverlap":false,"labelSeparation":0}
}
}
